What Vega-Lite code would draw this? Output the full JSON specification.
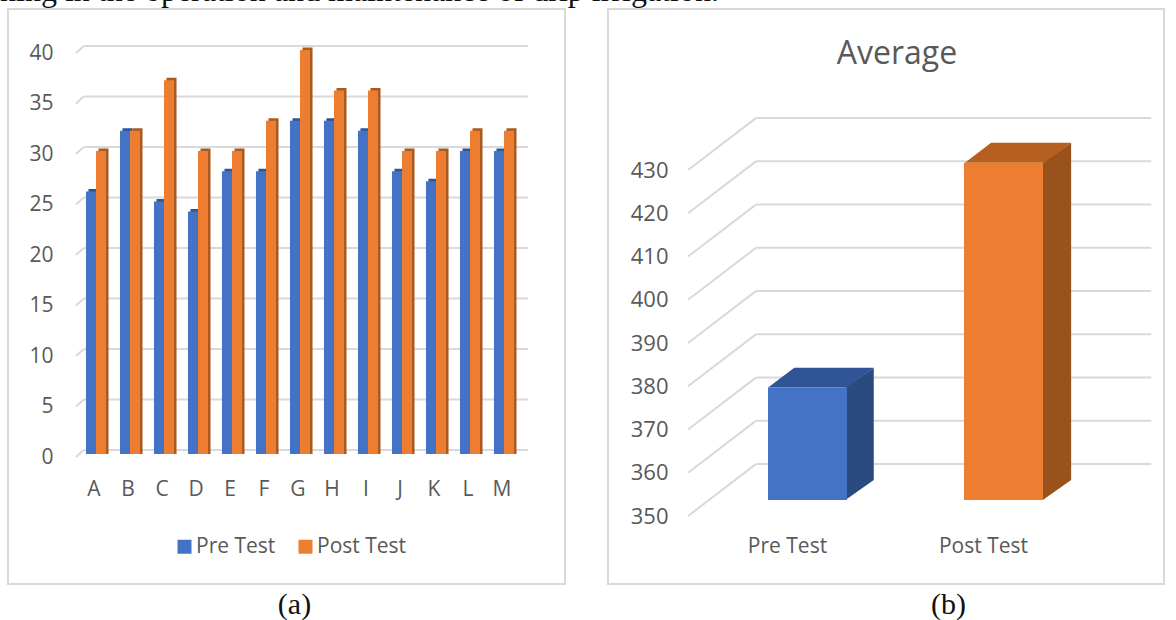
{
"$schema":"https://vega.github.io/schema/vega-lite/v6.json",
"background":"white",
"padding":{"left":0,"top":-25,"right":0,"bottom":30},
"title":{"text":"ning in the operation and maintenance of drip irrigation.","font":"Liberation Serif","fontSize":32,"fontWeight":"normal","color":"#111111","anchor":"start","frame":"group","dx":-8,"offset":-25,"baseline":"alphabetic"},
"config":{"view":{"stroke":"#d9d9d9","strokeWidth":2},"font":"Open Sans"},
"spacing":41,
"resolve":{"scale":{"color":"independent"}},
"hconcat":[
{"width":557,"height":575,
 "resolve":{"scale":{"x":"independent","xOffset":"independent"}},
 "layer":[
 {"data":{"values":[
  {"x":12.2,"x2":13.6,"y":-0.3,"y2":0.4},{"x":13.6,"x2":93.4,"y":0.4,"y2":0.4},
  {"x":12.2,"x2":13.6,"y":4.7,"y2":5.4},{"x":13.6,"x2":93.4,"y":5.4,"y2":5.4},
  {"x":12.2,"x2":13.6,"y":9.7,"y2":10.4},{"x":13.6,"x2":93.4,"y":10.4,"y2":10.4},
  {"x":12.2,"x2":13.6,"y":14.7,"y2":15.4},{"x":13.6,"x2":93.4,"y":15.4,"y2":15.4},
  {"x":12.2,"x2":13.6,"y":19.7,"y2":20.4},{"x":13.6,"x2":93.4,"y":20.4,"y2":20.4},
  {"x":12.2,"x2":13.6,"y":24.7,"y2":25.4},{"x":13.6,"x2":93.4,"y":25.4,"y2":25.4},
  {"x":12.2,"x2":13.6,"y":29.7,"y2":30.4},{"x":13.6,"x2":93.4,"y":30.4,"y2":30.4},
  {"x":12.2,"x2":13.6,"y":34.7,"y2":35.4},{"x":13.6,"x2":93.4,"y":35.4,"y2":35.4},
  {"x":12.2,"x2":13.6,"y":39.7,"y2":40.4},{"x":13.6,"x2":93.4,"y":40.4,"y2":40.4}
  ]},
  "mark":{"type":"rule","color":"#d9d9d9","strokeWidth":2},
  "encoding":{
   "x":{"field":"x","type":"quantitative","scale":{"domain":[0,100]},"axis":null},
   "x2":{"field":"x2"},
   "y":{"field":"y","type":"quantitative","scale":{"domain":[0,40],"range":[445,41]},
     "axis":{"title":null,"values":[0,5,10,15,20,25,30,35,40],"grid":false,"domain":false,"ticks":false,"offset":-45,"labelPadding":0,"labelFontSize":21,"labelColor":"#595959","labelFont":"Open Sans","labelOffset":3}},
   "y2":{"field":"y2"}
  }},
 {"data":{"name":"a"},
  "mark":{"type":"bar","yOffset":-2.5},
  "encoding":{
   "x":{"field":"name","type":"nominal","scale":{"range":[73.5,515.5],"paddingInner":0.41,"paddingOuter":0.205},"axis":null},
   "xOffset":{"field":"group","type":"nominal","scale":{"domain":["Pre Test","Post Test"]}},
   "y":{"field":"value","type":"quantitative","stack":null,"scale":{"domain":[0,40],"range":[445,41]}},
   "color":{"condition":{"test":"datum.group==='Pre Test'","value":"#2f5597"},"value":"#a85a1f"}
  }},
 {"data":{"name":"a"},
  "mark":{"type":"bar"},
  "encoding":{
   "x":{"field":"name","type":"nominal","scale":{"range":[71,513],"paddingInner":0.41,"paddingOuter":0.205},
     "axis":{"title":"(a)","titleFont":"Liberation Serif","titleFontSize":30,"titleFontWeight":"normal","titleColor":"#111111","titleX":286,"titleY":111,"labelAngle":0,"domain":false,"ticks":false,"offset":-106,"labelPadding":0,"labelFontSize":21,"labelColor":"#595959","labelFont":"Open Sans","labelOffset":-2}},
   "xOffset":{"field":"group","type":"nominal","scale":{"domain":["Pre Test","Post Test"]}},
   "y":{"field":"value","type":"quantitative","stack":null},
   "color":{"field":"group","type":"nominal","scale":{"domain":["Pre Test","Post Test"],"range":["#4472c4","#ed7d31"]},
     "legend":{"title":null,"orient":"none","legendX":166,"legendY":527,"direction":"horizontal","symbolType":"square","symbolSize":196,"labelFontSize":21,"labelColor":"#595959","labelFont":"Open Sans","columnPadding":19,"symbolStrokeWidth":0,"labelOffset":1}}
  }}
 ]},
{"width":556,"height":575,
 "title":{"text":"Average","font":"Open Sans","fontSize":32,"fontWeight":"normal","color":"#595959","anchor":"middle","frame":"group","offset":-62,"dx":11},
 "resolve":{"scale":{"x":"independent","color":"independent"}},
 "layer":[
 {"data":{"values":[
  {"x":14.4,"x2":26.6,"y":350,"y2":362},{"x":26.6,"x2":97.7,"y":362,"y2":362},
  {"x":14.4,"x2":26.6,"y":360,"y2":372},{"x":26.6,"x2":97.7,"y":372,"y2":372},
  {"x":14.4,"x2":26.6,"y":370,"y2":382},{"x":26.6,"x2":97.7,"y":382,"y2":382},
  {"x":14.4,"x2":26.6,"y":380,"y2":392},{"x":26.6,"x2":97.7,"y":392,"y2":392},
  {"x":14.4,"x2":26.6,"y":390,"y2":402},{"x":26.6,"x2":97.7,"y":402,"y2":402},
  {"x":14.4,"x2":26.6,"y":400,"y2":412},{"x":26.6,"x2":97.7,"y":412,"y2":412},
  {"x":14.4,"x2":26.6,"y":410,"y2":422},{"x":26.6,"x2":97.7,"y":422,"y2":422},
  {"x":14.4,"x2":26.6,"y":420,"y2":432},{"x":26.6,"x2":97.7,"y":432,"y2":432},
  {"x":14.4,"x2":26.6,"y":430,"y2":442},{"x":26.6,"x2":97.7,"y":442,"y2":442}
  ]},
  "mark":{"type":"rule","color":"#d9d9d9","strokeWidth":2},
  "encoding":{
   "x":{"field":"x","type":"quantitative","scale":{"domain":[0,100]},"axis":null},
   "x2":{"field":"x2"},
   "y":{"field":"y","type":"quantitative","scale":{"domain":[350,430],"range":[507,161]},
     "axis":{"title":null,"values":[350,360,370,380,390,400,410,420,430],"grid":false,"domain":false,"ticks":false,"offset":-60,"labelPadding":0,"labelFontSize":22,"labelColor":"#595959","labelFont":"Open Sans"}},
   "y2":{"field":"y2"}
  }},
 {"data":{"values":[
  {"face":"pre side","x":42.7,"y":376,"y2":350},{"face":"pre side","x":47.8,"y":380.6,"y2":354.6},
  {"face":"pre top","x":28.8,"y":376,"y2":376},{"face":"pre top","x":33.5,"y":380.6,"y2":376},{"face":"pre top","x":42.9,"y":380.6,"y2":376},{"face":"pre top","x":47.8,"y":380.6,"y2":380.6},
  {"face":"post side","x":78.2,"y":428,"y2":350},{"face":"post side","x":83.3,"y":432.6,"y2":354.6},
  {"face":"post top","x":64.2,"y":428,"y2":428},{"face":"post top","x":68.9,"y":432.6,"y2":428},{"face":"post top","x":78.4,"y":432.6,"y2":428},{"face":"post top","x":83.3,"y":432.6,"y2":432.6}
  ]},
  "mark":{"type":"area","yOffset":-16,"y2Offset":-16},
  "encoding":{
   "x":{"field":"x","type":"quantitative","scale":{"domain":[0,100]},"axis":null},
   "y":{"field":"y","type":"quantitative","stack":null},
   "y2":{"field":"y2"},
   "color":{"field":"face","type":"nominal","legend":null,"scale":{"domain":["pre side","pre top","post side","post top"],"range":["#2a4a80","#2f5597","#9a521c","#b55f20"]}}
  }},
 {"data":{"values":[{"group":"Pre Test","value":376,"base":350},{"group":"Post Test","value":428,"base":350}]},
  "mark":{"type":"bar","yOffset":-16,"y2Offset":-16},
  "encoding":{
   "x":{"field":"group","type":"nominal","sort":null,"scale":{"domain":["Pre Test","Post Test"],"range":[101.5,493.5],"paddingInner":0.597,"paddingOuter":0.2985},
     "axis":{"title":"(b)","titleFont":"Liberation Serif","titleFontSize":30,"titleFontWeight":"normal","titleColor":"#111111","titleX":340,"titleY":54,"labelAngle":0,"domain":false,"ticks":false,"offset":-49,"labelPadding":0,"labelFontSize":21,"labelColor":"#595959","labelFont":"Open Sans","labelOffset":-20}},
   "y":{"field":"value","type":"quantitative","stack":null},
   "y2":{"field":"base"},
   "color":{"field":"group","type":"nominal","legend":null,"scale":{"domain":["Pre Test","Post Test"],"range":["#4472c4","#ed7d31"]}}
  }}
 ]}
],
"datasets":{"a":[
{"name":"A","group":"Pre Test","value":26},{"name":"A","group":"Post Test","value":30},
{"name":"B","group":"Pre Test","value":32},{"name":"B","group":"Post Test","value":32},
{"name":"C","group":"Pre Test","value":25},{"name":"C","group":"Post Test","value":37},
{"name":"D","group":"Pre Test","value":24},{"name":"D","group":"Post Test","value":30},
{"name":"E","group":"Pre Test","value":28},{"name":"E","group":"Post Test","value":30},
{"name":"F","group":"Pre Test","value":28},{"name":"F","group":"Post Test","value":33},
{"name":"G","group":"Pre Test","value":33},{"name":"G","group":"Post Test","value":40},
{"name":"H","group":"Pre Test","value":33},{"name":"H","group":"Post Test","value":36},
{"name":"I","group":"Pre Test","value":32},{"name":"I","group":"Post Test","value":36},
{"name":"J","group":"Pre Test","value":28},{"name":"J","group":"Post Test","value":30},
{"name":"K","group":"Pre Test","value":27},{"name":"K","group":"Post Test","value":30},
{"name":"L","group":"Pre Test","value":30},{"name":"L","group":"Post Test","value":32},
{"name":"M","group":"Pre Test","value":30},{"name":"M","group":"Post Test","value":32}
]}
}
